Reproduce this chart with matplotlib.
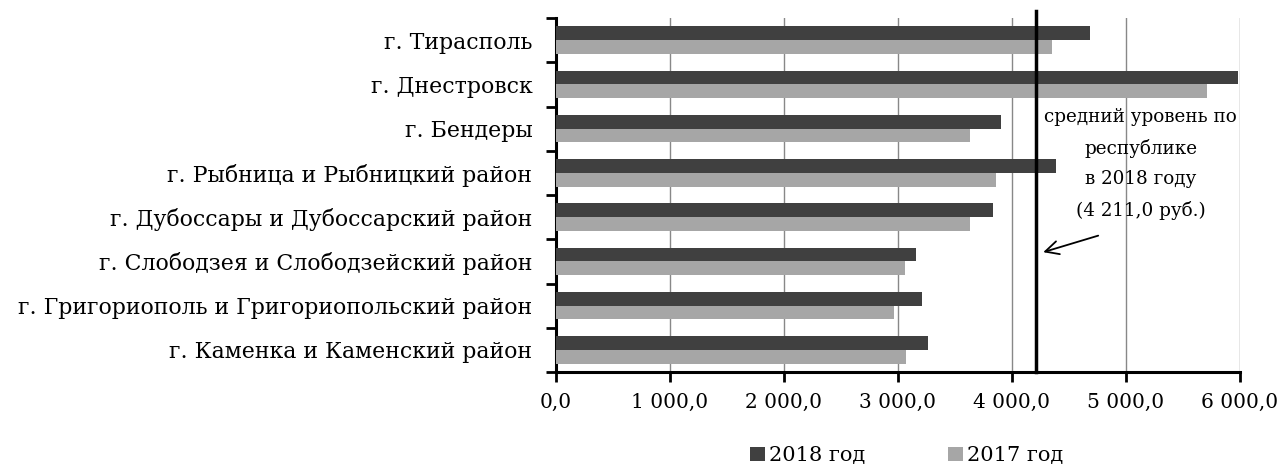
import numpy as np
import matplotlib
matplotlib.use("Agg")
import matplotlib.pyplot as plt

plt.rcParams['font.family'] = ['DejaVu Serif']

# regions, top to bottom
regions = ['г. Тирасполь', 'г. Днестровск', 'г. Бендеры',
           'г. Рыбница и Рыбницкий район', 'г. Дубоссары и Дубоссарский район',
           'г. Слободзея и Слободзейский район',
           'г. Григориополь и Григориопольский район',
           'г. Каменка и Каменский район']
y2018 = [4682, 5987, 3903, 4386, 3835, 3162, 3210, 3263]
y2017 = [4350, 5707, 3632, 3859, 3628, 3064, 2963, 3073]
avg_2018 = 4211.0
xticks = [0, 1000, 2000, 3000, 4000, 5000, 6000]
xlabels = ['0,0', '1 000,0', '2 000,0', '3 000,0', '4 000,0', '5 000,0', '6 000,0']

fs = 14.5

fig = plt.figure(figsize=(12.86, 4.68), dpi=100)
ax = fig.add_axes([0.4323, 0.2051, 0.5319, 0.7564])

pos = np.arange(len(regions))
h = 0.31
ax.barh(pos - h / 2, y2018, height=h, color='#404040', label='2018 год', zorder=3)
ax.barh(pos + h / 2, y2017, height=h, color='#a6a6a6', label='2017 год', zorder=3)

ax.set_xlim(0, 6000)
ax.set_ylim(len(regions) - 0.5, -0.5)
ax.set_xticks(xticks)
ax.set_xticklabels(xlabels, fontsize=fs)
ax.xaxis.grid(True, color='#888888', linewidth=1, zorder=0)

# category labels at centres, tick marks at band edges
ax.set_yticks(np.arange(len(regions) + 1) - 0.5)
ax.set_yticklabels([])
ax.set_yticks(pos, minor=True)
ax.set_yticklabels(regions, minor=True, fontsize=15.8)
ax.tick_params(axis='y', which='minor', length=0, pad=17)
ax.tick_params(axis='y', which='major', length=7, width=2, direction='out')
ax.tick_params(axis='x', length=7, width=2, direction='out', pad=8)

for s in ['top', 'right']:
    ax.spines[s].set_visible(False)
for s in ['left', 'bottom']:
    ax.spines[s].set_linewidth(2.2)

ax.axvline(avg_2018, color='black', linewidth=2.5, zorder=4, ymin=0, ymax=1.02, clip_on=False)

ax.text(5130, 2.8, 'средний уровень по\nреспублике\nв 2018 году\n(4 211,0 руб.)',
        ha='center', va='center', fontsize=13.2, linespacing=1.85, zorder=5)
ax.annotate('', xy=(avg_2018 + 40, 4.81), xytext=(4780, 4.4),
            arrowprops=dict(arrowstyle='->', color='black', lw=1.3, mutation_scale=24), zorder=5)

fig.legend(loc='center', bbox_to_anchor=(0.705, 0.026), ncol=2, frameon=False,
           fontsize=15, handlelength=0.7, handleheight=0.7, handletextpad=0.2,
           columnspacing=4)

fig.savefig('out.png', dpi=100)
